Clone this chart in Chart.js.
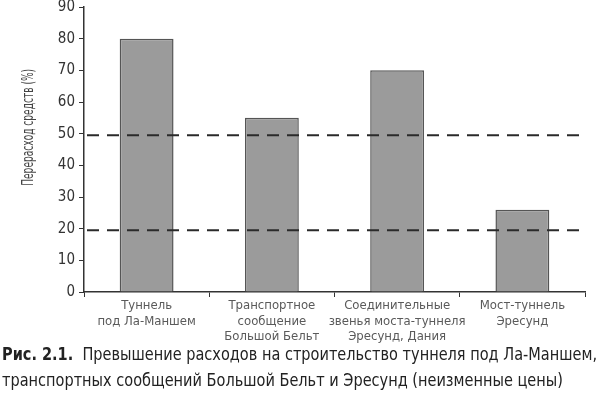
<!DOCTYPE html>
<html><head><meta charset="utf-8">
<script src="https://cdn.jsdelivr.net/npm/chart.js@4/dist/chart.umd.min.js"></script>
<style>
html,body{margin:0;padding:0;background:#fff;width:600px;height:401px;overflow:hidden;}
#wrap{position:absolute;left:0;top:0;width:600px;height:345px;}
#cap{position:absolute;left:2px;top:341px;font-family:"DejaVu Sans Condensed","Liberation Sans Narrow",sans-serif;font-size:18px;line-height:26px;color:#222;white-space:nowrap;transform-origin:0 0;}
#cap b{font-weight:bold;}
</style></head>
<body>
<div id="wrap"><canvas id="c"></canvas></div>
<div id="cap"><span id="l1"><b>Рис. 2.1.</b>&nbsp; Превышение расходов на строительство туннеля под Ла-Маншем,</span><br><span>транспортных сообщений Большой Бельт и Эресунд (неизменные цены)</span></div>
<script>
const categories = [
  ["Туннель","под Ла-Маншем"],
  ["Транспортное","сообщение","Большой Бельт"],
  ["Соединительные","звенья моста-туннеля","Эресунд, Дания"],
  ["Мост-туннель","Эресунд"]
];
const overrun = [80, 55, 70, 26];
const thresholds = [49.5, 19.5];
const yTicks = [0,10,20,30,40,50,60,70,80,90];
const yTitle = "Перерасход средств (%)";

const FONT = '"DejaVu Sans Condensed","Liberation Sans Narrow",sans-serif';

// fit caption width
(function(){
  const l1 = document.getElementById('l1');
  const w = l1.getBoundingClientRect().width;
  const s = 595 / w;
  document.getElementById('cap').style.transform = 'scaleX(' + s + ')';
})();

const dashPlugin = {
  id:'dashLines',
  afterDatasetsDraw(chart){
    const {ctx, chartArea, scales:{y}} = chart;
    ctx.save();
    ctx.strokeStyle = '#2a2a2a';
    ctx.lineWidth = 2.2;
    ctx.setLineDash([12,8]);
    thresholds.forEach(v=>{
      const py = y.getPixelForValue(v);
      ctx.beginPath();
      ctx.moveTo(chartArea.left+3, py);
      ctx.lineTo(chartArea.right, py);
      ctx.stroke();
    });
    ctx.restore();
  },
  afterDraw(chart){
    const {ctx, scales:{y}} = chart;
    const cy = y.getPixelForValue(52);
    ctx.save();
    ctx.translate(29, cy);
    ctx.rotate(-Math.PI/2);
    ctx.scale(0.63, 1);
    ctx.font = '16px ' + FONT;
    ctx.fillStyle = '#444';
    ctx.textAlign = 'center';
    ctx.textBaseline = 'middle';
    ctx.fillText(yTitle, 0, 0);
    ctx.restore();
  }
};

new Chart(document.getElementById('c'), {
  type:'bar',
  data:{
    labels:categories,
    datasets:[{
      data:overrun,
      backgroundColor:'#9b9b9b',
      borderColor:'#555',
      borderWidth:1.5,
      categoryPercentage:1,
      barPercentage:0.43
    }]
  },
  options:{
    responsive:true,
    maintainAspectRatio:false,
    animation:false,
    devicePixelRatio:1,
    layout:{padding:{top:7,right:15,left:0,bottom:0}},
    plugins:{legend:{display:false},tooltip:{enabled:false}},
    scales:{
      x:{
        grid:{display:true,drawOnChartArea:false,drawTicks:true,tickLength:5,color:'#333',offset:true},
        border:{display:true,color:'#333',width:1.5},
        ticks:{color:'#5a5a5a',font:{family:FONT,size:13},padding:1,maxRotation:0,autoSkip:false},
        afterFit(s){s.height=53;}
      },
      y:{
        min:0,max:90,
        afterBuildTicks(s){s.ticks = yTicks.map(v=>({value:v}));},
        grid:{display:true,drawOnChartArea:false,drawTicks:true,tickLength:5,color:'#333'},
        border:{display:true,color:'#333',width:1.5},
        ticks:{color:'#333',font:{family:FONT,size:15,lineHeight:0.8},padding:4},
        title:{display:false},
        afterFit(s){s.width=84; s.paddingTop=0;}
      }
    }
  },
  plugins:[dashPlugin]
});
</script>
</body></html>
